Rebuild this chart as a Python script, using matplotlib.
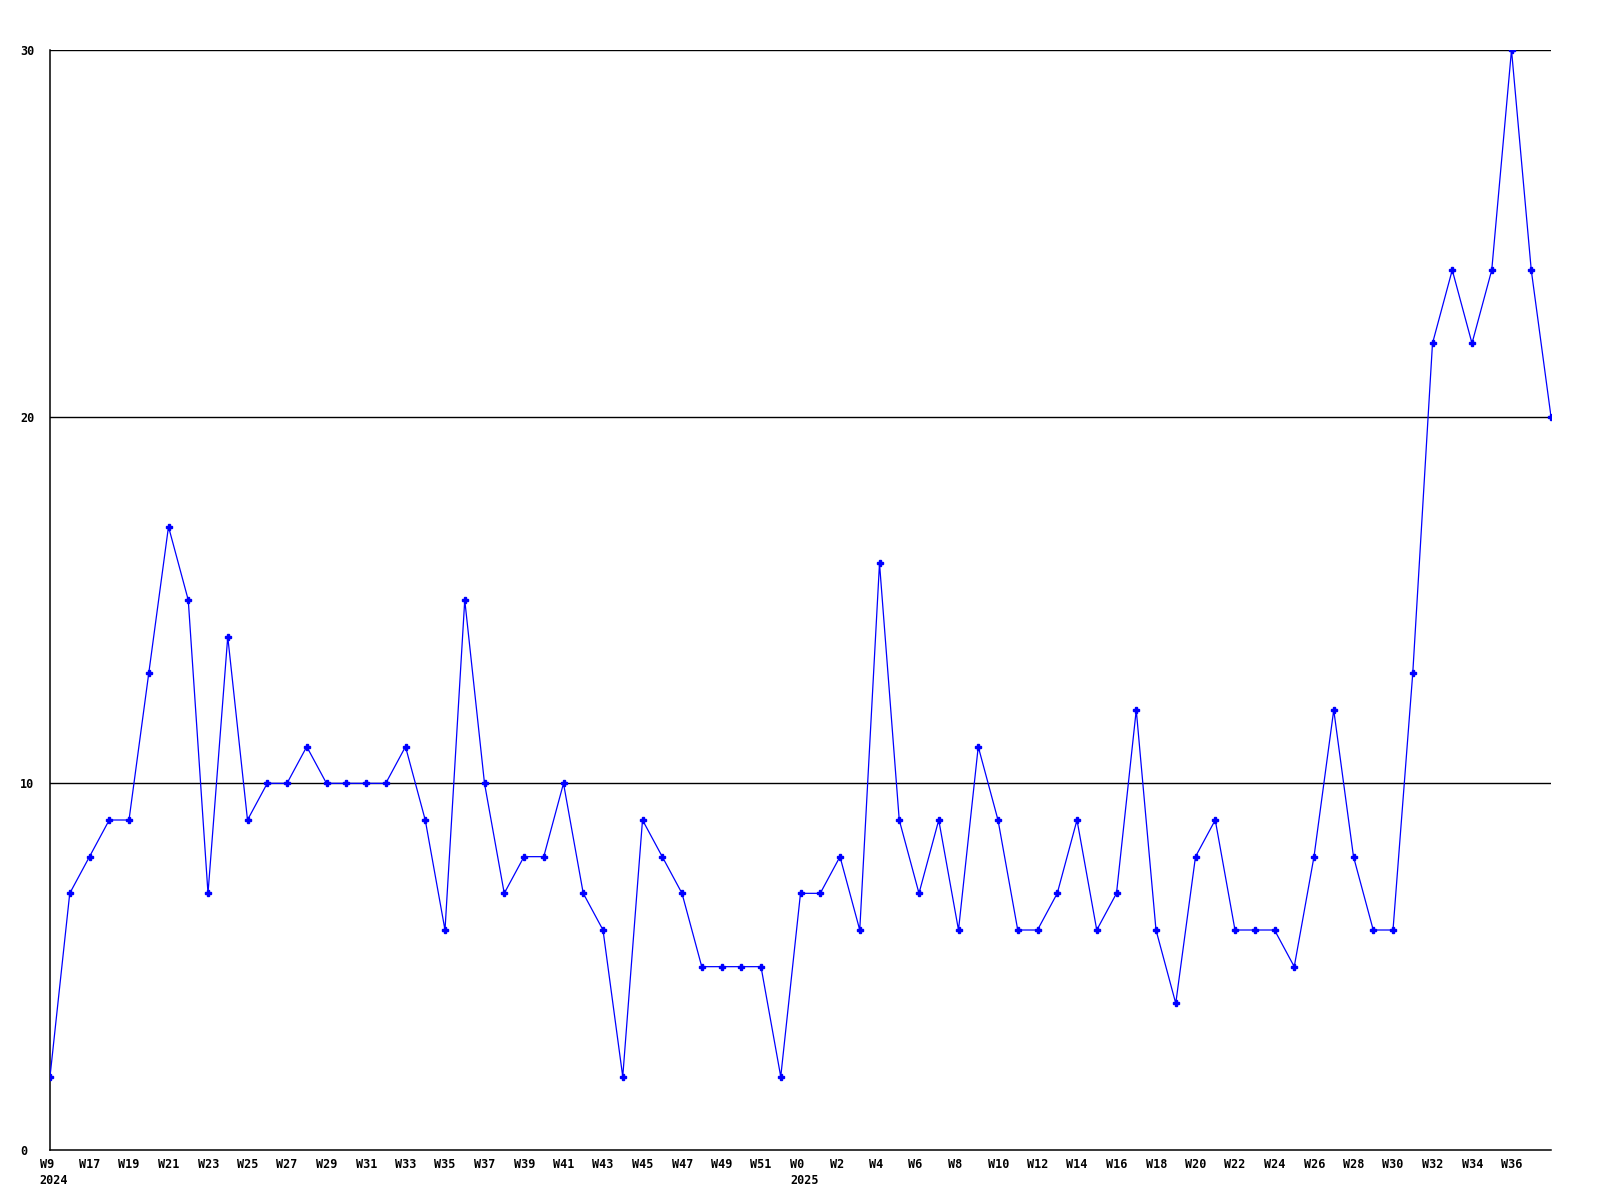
import matplotlib.pyplot as plt
from matplotlib.transforms import ScaledTranslation

weeks = ["W9"] + ["W%d" % w for w in range(16, 53)] + ["W%d" % w for w in range(0, 39)]
years = {0: "2024", 38: "2025"}
values = [2, 7, 8, 9, 9, 13, 17, 15, 7, 14, 9, 10, 10, 11, 10, 10, 10, 10, 11, 9,
          6, 15, 10, 7, 8, 8, 10, 7, 6, 2, 9, 8, 7, 5, 5, 5, 5, 2,
          7, 7, 8, 6, 16, 9, 7, 9, 6, 11, 9, 6, 6, 7, 9, 6, 7, 12, 6, 4, 8, 9,
          6, 6, 6, 5, 8, 12, 8, 6, 6, 13, 22, 24, 22, 24, 30, 24, 20]
y_ticks = [0, 10, 20, 30]

x = list(range(len(values)))

fig = plt.figure(figsize=(16, 12), dpi=100)
ax = fig.add_axes([50 / 1600, 50 / 1200, 1501 / 1600, 1100 / 1200])

for t in y_ticks[1:]:
    ax.axhline(t, color="black", lw=1.0, zorder=1)

ax.plot(x, values, color="#0000ff", lw=0.9, marker="P", markersize=3.8, zorder=3)

ax.set_xlim(0, len(values) - 1)
ax.set_ylim(0, 30)

font = dict(family="DejaVu Sans Mono", weight="bold", size=8.5)

ax.set_yticks(y_ticks)
ax.set_yticklabels([str(t) for t in y_ticks], **font)
for lab in ax.get_yticklabels():
    lab.set_horizontalalignment("left")
ax.tick_params(axis="y", length=0, pad=21.6)

# every second week gets a label, the last point does not
tick_pos = list(range(0, len(values) - 1, 2))
labels = []
for i in tick_pos:
    s = weeks[i]
    if i in years:
        s += "\n" + years[i]
    labels.append(s)
ax.set_xticks(tick_pos)
ax.set_xticklabels(labels, **font)
ax.tick_params(axis="x", length=0, pad=6)
off = ScaledTranslation(-10.5 / 100, 0, fig.dpi_scale_trans)
for lab in ax.get_xticklabels():
    lab.set_horizontalalignment("left")
    lab.set_multialignment("left")
    lab.set_linespacing(1.25)
    lab.set_transform(lab.get_transform() + off)

ax.spines["top"].set_visible(False)
ax.spines["right"].set_visible(False)
ax.spines["left"].set_linewidth(1.1)
ax.spines["bottom"].set_linewidth(1.1)

fig.savefig("out.png", dpi=100)
